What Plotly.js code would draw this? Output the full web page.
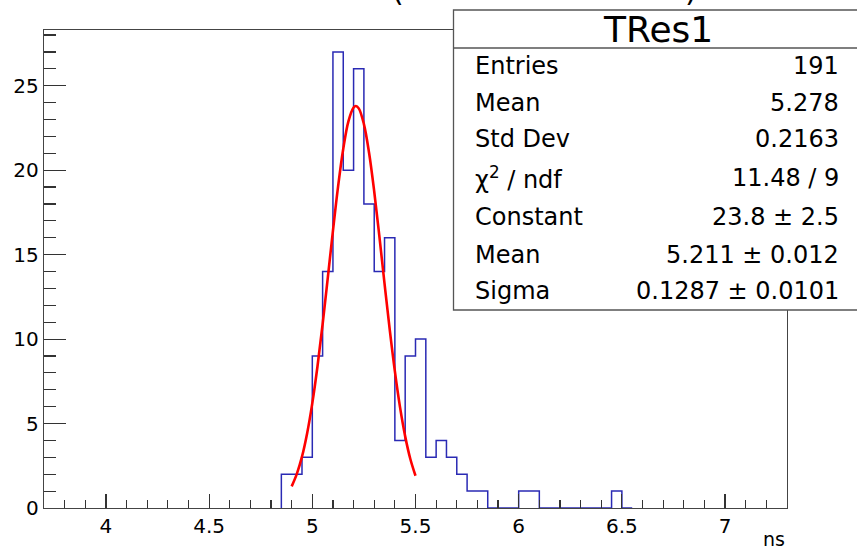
<!DOCTYPE html>
<html><head><meta charset="utf-8">
<script src="https://cdn.plot.ly/plotly-3.0.1.min.js"></script>
<style>html,body{margin:0;padding:0;background:#fff;} #chart{width:857px;height:548px;}</style>
</head><body><div id="chart"></div>
<script>
// Histogram bins (lower edges, ns) and counts
const binLow = [4.85,4.90,4.95,5.00,5.05,5.10,5.15,5.20,5.25,5.30,5.35,5.40,5.45,5.50,5.55,5.60,5.65,5.70,5.75,5.80,5.85,5.90,5.95,6.00,6.05,6.10,6.15,6.20,6.25,6.30,6.35,6.40,6.45,6.50];
const binCounts = [2,2,3,9,14,27,20,26,18,14,16,4,9,10,3,4,3,2,1,1,0,0,0,1,1,0,0,0,0,0,0,0,1,0];
const binWidth = 0.05;

// Gaussian fit curve as drawn
const fitX = [4.900,4.925,4.950,4.975,5.000,5.025,5.050,5.075,5.100,5.125,5.150,5.175,5.200,5.211,5.225,5.250,5.275,5.300,5.325,5.350,5.375,5.400,5.425,5.450,5.475,5.500];
const fitY = [1.28,2.02,3.04,4.43,6.21,8.38,10.88,13.62,16.41,19.04,21.27,22.89,23.71,23.80,23.66,22.73,21.03,18.74,16.08,13.28,10.57,8.10,5.97,4.24,2.90,1.91];

// Stats box
const statTitle = "TRes1";
const statLabels = ["Entries","Mean","Std Dev","χ<sup>2</sup> / ndf","Constant","Mean","Sigma"];
const statValues = ["191","5.278","0.2163","11.48 / 9","23.8 ± 2.5","5.211 ± 0.012","0.1287 ± 0.0101"];

// Axis ticks
const xTickVals = [4,4.5,5,5.5,6,6.5,7];
const xTickText = ["4","4.5","5","5.5","6","6.5","7"];
const yTickVals = [0,5,10,15,20,25];
const yTickText = ["0","5","10","15","20","25"];
const xTitle = "ns";

// Build step outline
const stepX = [binLow[0]], stepY = [0];
for (let i = 0; i < binLow.length; i++) { stepX.push(binLow[i]); stepY.push(binCounts[i]); }
stepX.push(binLow[binLow.length-1] + binWidth); stepY.push(0);

const FONT = 'DejaVu Sans';
const L = 44, R = 70, T = 30, B = 40, W = 857, H = 548;
const pw = W - L - R, ph = H - T - B;
const px = x => (x - L) / pw;
const py = y => (H - B - y) / ph;

const traces = [
  {x: stepX, y: stepY, type: 'scatter', mode: 'lines', line: {shape: 'hv', color: '#2a2ab4', width: 1.5}, hoverinfo: 'skip'},
  {x: fitX, y: fitY, type: 'scatter', mode: 'lines', line: {shape: 'spline', color: '#ff0000', width: 2.6}, hoverinfo: 'skip'}
];

const rowY = [66, 102.5, 139, 177.5, 217, 254.5, 291];
const annotations = [];
statLabels.forEach((t, i) => {
  annotations.push({xref: 'paper', yref: 'paper', x: px(473), y: py(rowY[i]), xanchor: 'left', yanchor: 'middle', text: t, showarrow: false, font: {family: FONT, size: 24, color: '#000'}});
  annotations.push({xref: 'paper', yref: 'paper', x: px(841), y: py(rowY[i]), xanchor: 'right', yanchor: 'middle', text: statValues[i], showarrow: false, font: {family: FONT, size: 24, color: '#000'}});
});
annotations.push({xref: 'paper', yref: 'paper', x: px(658), y: py(29), xanchor: 'center', yanchor: 'middle', text: statTitle, showarrow: false, font: {family: FONT, size: 36, color: '#000'}});
annotations.push({xref: 'paper', yref: 'paper', x: 1, y: py(539), xanchor: 'right', yanchor: 'middle', text: xTitle, showarrow: false, font: {family: FONT, size: 19, color: '#000'}});
annotations.push({xref: 'paper', yref: 'paper', x: px(398), y: py(-10), xanchor: 'center', yanchor: 'middle', text: '(', showarrow: false, font: {family: FONT, size: 30, color: '#000'}});
annotations.push({xref: 'paper', yref: 'paper', x: px(691), y: py(-10), xanchor: 'center', yanchor: 'middle', text: ')', showarrow: false, font: {family: FONT, size: 30, color: '#000'}});

const layout = {
  width: W, height: H,
  margin: {l: L, r: R, t: T, b: B, pad: 0},
  paper_bgcolor: '#fff', plot_bgcolor: '#fff',
  showlegend: false,
  xaxis: {
    range: [3.7, 7.3], showgrid: false, zeroline: false,
    showline: true, mirror: true, linecolor: '#444', linewidth: 1.2,
    tickmode: 'array', tickvals: xTickVals, ticktext: xTickText,
    ticks: 'inside', ticklen: 14, tickwidth: 1.2, tickcolor: '#333',
    minor: {tick0: 3.7, dtick: 0.1, ticks: 'inside', ticklen: 8, tickwidth: 1.2, tickcolor: '#333'},
    tickfont: {family: FONT, size: 20, color: '#000'}
  },
  yaxis: {
    range: [0, 28.3], showgrid: false, zeroline: false,
    showline: true, mirror: true, linecolor: '#444', linewidth: 1.2,
    tickmode: 'array', tickvals: yTickVals, ticktext: yTickText,
    ticks: 'inside', ticklen: 22, tickwidth: 1.2, tickcolor: '#333',
    minor: {tick0: 0, dtick: 1, ticks: 'inside', ticklen: 12, tickwidth: 1.2, tickcolor: '#333'},
    tickfont: {family: FONT, size: 20, color: '#000'}
  },
  shapes: [
    {type: 'rect', xref: 'paper', yref: 'paper', x0: px(453.5), x1: px(880), y0: py(310), y1: py(10), fillcolor: '#fff', line: {color: '#555', width: 1.3}, layer: 'above'},
    {type: 'line', xref: 'paper', yref: 'paper', x0: px(453.5), x1: px(880), y0: py(48), y1: py(48), line: {color: '#555', width: 1.3}, layer: 'above'}
  ],
  annotations: annotations
};

Plotly.newPlot('chart', traces, layout, {displayModeBar: false, staticPlot: true});
</script>
</body></html>
